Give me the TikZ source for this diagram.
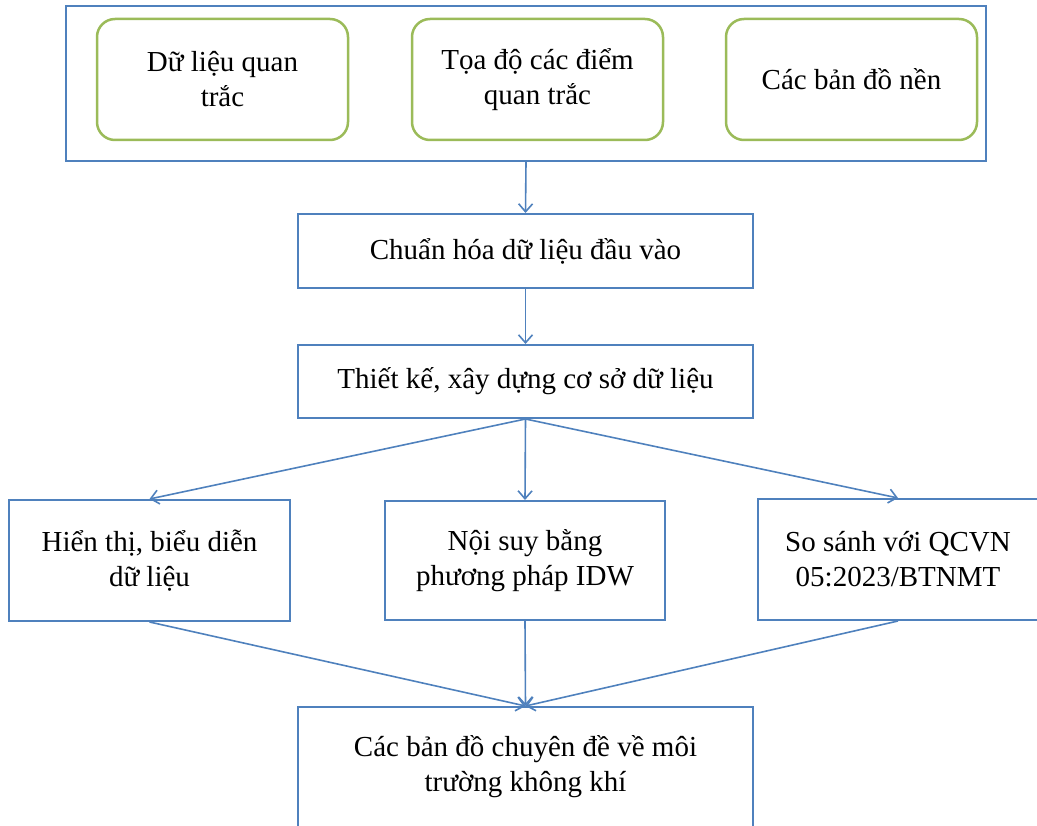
\documentclass[tikz,border=0pt]{standalone}
\usepackage{fontspec}
\setmainfont{Liberation Serif}
\usetikzlibrary{arrows.meta}
\definecolor{boxblue}{RGB}{79,129,189}
\definecolor{boxgreen}{RGB}{155,187,89}
\begin{document}
\begin{tikzpicture}[x=1pt,y=-1pt,
  bluebox/.style={draw=boxblue,line width=2pt,rectangle,align=center,inner sep=0pt,
    font=\fontsize{29}{35}\selectfont},
  greenbox/.style={draw=boxgreen,line width=2.5pt,rectangle,rounded corners=18pt,align=center,
    inner sep=0pt,minimum width=251pt,minimum height=121pt,font=\fontsize{29}{35}\selectfont},
  conn/.style={draw=boxblue,line width=1.6pt,-{Straight Barb[length=8pt,width=14pt,line width=1.6pt]}}]
\useasboundingbox (0,0) rectangle (1037,826);
\clip (0,0) rectangle (1037,826);
\node[bluebox,minimum width=920pt,minimum height=155pt] (outer) at (526,83.5) {};
\node[greenbox] (g1) at (222.5,79.5) {Dữ liệu quan\\trắc};
\node[greenbox] (g2) at (537.5,79.5) {Tọa độ các điểm\\quan trắc};
\node[greenbox] (g3) at (851.5,79.5) {Các bản đồ nền};
\node[bluebox,minimum width=455pt,minimum height=74pt] (b1) at (525.5,251) {Chuẩn hóa dữ liệu đầu vào};
\node[bluebox,minimum width=455pt,minimum height=73pt] (b2) at (525.5,381.5) {Thiết kế, xây dựng cơ sở dữ liệu};
\node[bluebox,minimum width=281pt,minimum height=121pt] (l) at (149.5,560.5) {Hiển thị, biểu diễn\\dữ liệu};
\node[bluebox,minimum width=280pt,minimum height=119pt] (m) at (525,560.5) {Nội suy bằng\\phương pháp IDW};
\node[bluebox,minimum width=280pt,minimum height=121pt] (r) at (898,559.5) {So sánh với QCVN\\05:2023/BTNMT};
\node[bluebox,minimum width=455pt,minimum height=120pt] (bot) at (525.5,767) {Các bản đồ chuyên đề về môi\\trường không khí};
\draw[conn] (outer.south) -- (b1.north);
\draw[conn] (b1.south) -- (b2.north);
\draw[conn] (b2.south) -- (l.north);
\draw[conn] (b2.south) -- (m.north);
\draw[conn] (b2.south) -- (r.north);
\draw[conn] (l.south) -- (bot.north);
\draw[conn] (m.south) -- (bot.north);
\draw[conn] (r.south) -- (bot.north);
\end{tikzpicture}
\end{document}
